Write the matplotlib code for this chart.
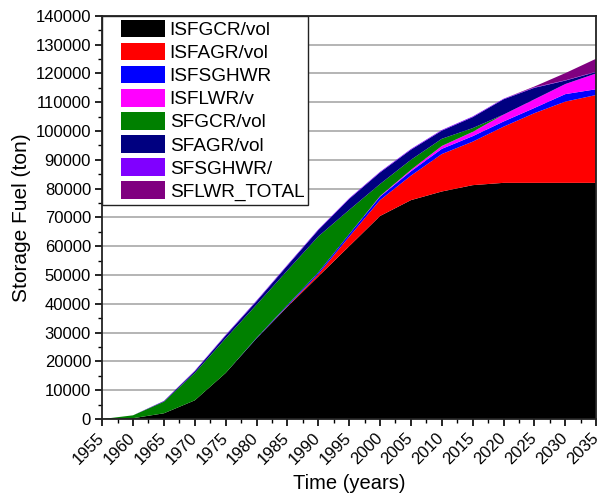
import numpy as np
import matplotlib
matplotlib.use("Agg")
import matplotlib.pyplot as plt
from matplotlib.ticker import MultipleLocator
from matplotlib.patches import Rectangle
from matplotlib.legend_handler import HandlerPatch
from matplotlib.transforms import ScaledTranslation

plt.rcParams['font.family'] = ['Liberation Sans', 'DejaVu Sans']

years = [1955, 1960, 1965, 1970, 1975, 1980, 1985, 1990, 1995,
         2000, 2005, 2010, 2015, 2020, 2025, 2030, 2035]

# stored fuel per reactor category (tons)
isfgcr = [0, 300, 2000, 6500, 16000, 28000, 39000, 49500, 60000,
          70500, 76000, 79000, 81200, 82000, 82000, 82000, 82000]
isfagr = [0, 0, 0, 0, 0, 0, 200, 800, 3300,
          5500, 8500, 13000, 15100, 19500, 24200, 28200, 30500]
isfsghwr = [0, 0, 0, 0, 0, 200, 400, 600, 900,
            1200, 1500, 1800, 1900, 1800, 1800, 2600, 2000]
isflwr = [0, 0, 0, 0, 0, 0, 0, 0, 0,
          200, 500, 1000, 1500, 2400, 3000, 3500, 5500]
sfgcr = [0, 1000, 4000, 9500, 12000, 11500, 12000, 12500, 8400,
         4200, 3500, 2500, 1300, 0, 0, 0, 0]
sfagr = [0, 0, 200, 600, 1000, 1200, 1700, 2200, 3800,
         4000, 3500, 2800, 3800, 5300, 4000, 1200, 500]
sfsghwr = [0, 0, 100, 200, 250, 250, 250, 250, 250,
           250, 250, 250, 250, 200, 150, 100, 100]
sflwr_total = [0, 0, 0, 0, 0, 0, 0, 0, 0,
               0, 0, 0, 0, 0, 300, 2500, 4500]

labels = ['ISFGCR/vol', 'ISFAGR/vol', 'ISFSGHWR', 'ISFLWR/v',
          'SFGCR/vol', 'SFAGR/vol', 'SFSGHWR/', 'SFLWR_TOTAL']
colors = ['#000000', '#ff0000', '#0000ff', '#ff00ff',
          '#008000', '#000080', '#8000ff', '#800080']


def inset_patch(legend, orig_handle, xdescent, ydescent, width, height, fontsize):
    # colour swatch shifted right inside its handle box
    off = width * 0.26
    return Rectangle((-xdescent + off, -ydescent), width - off, height)


fig = plt.figure(figsize=(6.01, 4.93), dpi=100)
ax = fig.add_axes([0.170, 0.150, 0.822, 0.818])

ax.stackplot(years, isfgcr, isfagr, isfsghwr, isflwr, sfgcr, sfagr,
             sfsghwr, sflwr_total, colors=colors, zorder=2)

ax.set_xlim(1955, 2035)
ax.set_ylim(0, 140000)
ax.xaxis.set_major_locator(MultipleLocator(5))
ax.xaxis.set_minor_locator(MultipleLocator(2.5))
ax.yaxis.set_major_locator(MultipleLocator(10000))
ax.yaxis.set_minor_locator(MultipleLocator(5000))
ax.grid(axis='y', which='major', color='#a8a8a8', lw=1.2, zorder=0)
ax.set_axisbelow(True)

for s in ax.spines.values():
    s.set_linewidth(1.3)
    s.set_color('#222222')
ax.tick_params(which='major', length=5, width=1.2, labelsize=12, pad=3)
ax.tick_params(which='minor', length=3, width=1.0)
# rotated year labels, nudged left so the glyphs end at their tick
shift = ScaledTranslation(-4 / 72, 0, fig.dpi_scale_trans)
for lbl in ax.get_xticklabels():
    lbl.set_rotation(45)
    lbl.set_ha('right')
    lbl.set_rotation_mode('anchor')
    lbl.set_transform(lbl.get_transform() + shift)

ax.set_xlabel('Time (years)', fontsize=14.5, labelpad=5)
ax.set_ylabel('Storage Fuel (ton)', fontsize=15, labelpad=3)

handles = [Rectangle((0, 0), 1, 1, facecolor=c, edgecolor='none') for c in colors]
leg = ax.legend(handles, labels, loc='upper left', borderaxespad=0, fontsize=13.7,
                fancybox=False, framealpha=1, edgecolor='#222222',
                handlelength=3.1, handleheight=1.05, labelspacing=0.2,
                handletextpad=0.25, borderpad=0.2,
                handler_map={Rectangle: HandlerPatch(patch_func=inset_patch)})
leg.get_frame().set_linewidth(1.0)

fig.savefig('out.png', dpi=100)
